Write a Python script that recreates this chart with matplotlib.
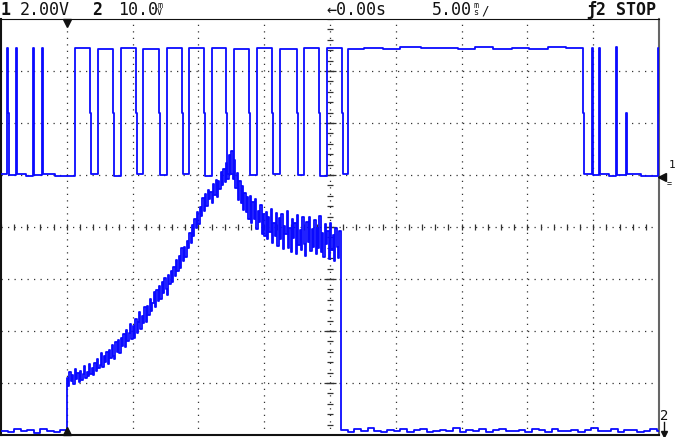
import numpy as np
import matplotlib
matplotlib.use("Agg")
import matplotlib.pyplot as plt

W, H = 675, 437

# channel 1: 2.00 V/div, ground marker one division above centre
# step trace: time (ms) of each change and the level (V) after it
ch1_t = [-5.0, -4.55, -4.49, -4.43, -3.88, -3.82, -3.1, -2.58, -2.52, -2.46, -1.90, -1.84, -0.9,
         0.61, 1.75, 1.87, 2.36, 3.50, 3.62, 4.10, 5.24, 5.36, 5.78, 6.99, 7.11,
         7.60, 8.74, 8.86, 9.27, 10.41, 10.53, 11.02, 12.08, 12.20, 12.69, 13.83, 13.95,
         14.44, 15.58, 15.70, 16.19, 17.48, 17.60, 18.01, 19.15, 19.27, 19.76, 20.90, 21.02,
         21.35, 22.6, 24.0, 25.3, 26.9, 28.2, 29.7, 31.0, 32.4, 33.8, 35.1, 36.6, 37.9,
         39.21, 39.33, 39.89, 39.95, 40.01, 40.43, 40.49, 40.55, 41.2, 41.72, 41.78,
         42.48, 42.54, 43.6, 44.91, 44.97, 45.2]
ch1_v = [0.02, 4.88, 2.4, 0.0, 4.9, 0.03, -0.03, 4.88, 2.4, 0.0, 4.9, 0.02, -0.02,
         4.88, 2.4, 0.02, 4.85, 2.4, -0.02, 4.9, 2.4, 0.03, 4.86, 2.4, 0.0,
         4.9, 2.4, 0.02, 4.87, 2.4, -0.02, 4.9, 2.4, 0.02, 4.86, 2.4, 0.0,
         4.9, 2.4, 0.03, 4.85, 2.4, 0.0, 4.9, 2.4, -0.02, 4.87, 2.4, 0.02,
         4.86, 4.9, 4.84, 4.91, 4.87, 4.9, 4.85, 4.91, 4.86, 4.89, 4.85, 4.91, 4.87,
         2.4, 0.02, 4.9, 2.4, 0.0, 4.9, 2.4, 0.03, -0.03, 4.92, 0.0,
         2.4, 0.02, -0.02, 4.9, 2.4, 2.4]

# channel 2: 10.0 /div, ground at the bottom of the screen
ch2_pre = [0.8, 0.5, 1.1, 0.7, 0.9, 0.4, 1.2, 0.8, 0.6, 1.0]          # from -5 ms, every 0.5 ms
ch2_main = [                                                          # from 0 ms, every 0.1 ms
    10.9, 9.4, 12.1, 10.3, 11.6, 9.8, 12.7, 10.7, 11.9, 10.1,
    12.4, 10.6, 11.8, 13.2, 10.9, 12.1, 11.3, 13.6, 11.7, 12.9,
    11.6, 13.8, 12.4, 14.6, 12.9, 13.4, 15.8, 13.1, 15.2, 14.0,
    15.9, 13.6, 16.4, 14.8, 17.3, 15.1, 14.6, 17.9, 16.0, 18.2,
    15.8, 18.6, 17.1, 19.4, 16.9, 20.2, 18.0, 19.7, 21.4, 18.5,
    20.9, 18.7, 22.3, 19.6, 21.8, 23.6, 20.4, 22.9, 21.5, 24.6,
    21.7, 24.8, 23.0, 26.1, 23.9, 25.4, 27.5, 24.6, 27.9, 25.8,
    28.6, 26.1, 29.4, 27.3, 30.2, 28.0, 26.9, 30.8, 29.1, 31.5,
    29.4, 32.3, 30.6, 33.7, 31.5, 34.4, 32.2, 35.9, 33.4, 36.2,
    34.2, 37.4, 35.9, 38.8, 37.0, 40.3, 38.2, 41.6, 39.9, 42.8,
    40.6, 43.9, 42.2, 45.6, 43.1, 46.4, 44.0, 47.2, 45.3, 46.8,
    44.7, 48.3, 46.2, 49.1, 45.8, 48.9, 47.4, 50.6, 48.1, 51.2,
    48.6, 52.4, 49.3, 53.9, 50.1, 54.6, 49.2, 52.8, 47.5, 50.3,
    45.1, 48.8, 44.6, 47.9, 43.2, 46.6, 42.9, 45.7, 41.6, 46.0,
    40.8, 44.9, 41.5, 45.3, 39.6, 43.0, 40.9, 44.2, 38.7, 42.5,
    38.3, 42.8, 37.6, 41.9, 39.0, 43.4, 36.9, 40.7, 38.2, 42.6,
    36.4, 41.8, 37.7, 42.5, 35.8, 40.2, 38.6, 43.1, 36.0, 39.9,
    35.2, 41.6, 37.9, 40.8, 34.9, 42.3, 36.5, 39.4, 35.6, 41.9,
    36.8, 34.5, 40.9, 37.2, 42.0, 35.3, 39.6, 36.1, 41.4, 34.8,
    39.8, 36.0, 42.2, 35.1, 38.9, 34.3, 40.5, 36.7, 39.2, 33.9,
    40.7, 35.6, 38.4, 33.5, 39.9, 36.2, 34.1, 39.3, 37.6]
ch2_post = [0.9, 0.6, 1.1, 0.7, 1.3, 0.8, 0.5, 1.0, 0.7, 1.2,           # from 20.85 ms, every 0.5 ms
            0.6, 0.9, 1.1, 0.5, 0.8, 1.0, 0.7, 1.3, 0.6, 0.9,
            0.8, 1.1, 0.5, 0.9, 1.2, 0.7, 0.8, 1.0, 0.6, 1.1,
            0.9, 0.5, 1.2, 0.8, 0.7, 1.0, 0.6, 0.9, 1.3, 0.7,
            0.8, 1.1, 0.6, 0.9, 1.0, 0.5, 0.8, 1.2, 0.7]

CH1_VDIV, CH1_GND = 2.0, 1.0
CH2_VDIV, CH2_GND = 10.0, -4.0
BLUE = "#0a0aff"
INK = "#111111"
DOT = "#333333"

fig = plt.figure(figsize=(W / 100, H / 100), dpi=100)
ax = fig.add_axes([1 / W, 2 / H, 658 / W, 416 / H])
ax.set_xlim(-5, 45)
ax.set_ylim(-4, 4)
ax.set_xticks([])
ax.set_yticks([])
for side, lw, col in [("left", 1.5, INK), ("top", 0.8, INK), ("bottom", 1.5, INK), ("right", 1.5, "#666666")]:
    ax.spines[side].set_linewidth(lw)
    ax.spines[side].set_color(col)

# dotted graticule
for t in range(0, 45, 5):
    ax.axvline(t, color=DOT, lw=0.9, ls=(0, (1, 4.2)), zorder=1)
for d in range(-3, 4):
    ax.axhline(d, color=DOT, lw=0.9, ls=(0, (1, 4.2)), zorder=1)
# tick marks on the centre axes
tx = np.arange(-5, 45.01, 1.0)
ax.plot(tx, np.zeros_like(tx), ls="none", marker="|", ms=4, mew=0.9, color=DOT, zorder=1)
ty = np.arange(-4, 4.01, 0.2)
ax.plot(np.full_like(ty, 20.0), ty, ls="none", marker="_", ms=4, mew=0.9, color=DOT, zorder=1)
ty_major = np.arange(-3, 3.01, 1.0)
ax.plot(np.full_like(ty_major, 20.0), ty_major, ls="none", marker="_", ms=8, mew=0.9, color=DOT, zorder=1)

# traces
ax.plot(ch1_t, CH1_GND + np.array(ch1_v) / CH1_VDIV, drawstyle="steps-post", color=BLUE, lw=1.3, zorder=3)

t_pre = -5.0 + 0.5 * np.arange(len(ch2_pre))
t_main = 0.1 * np.arange(len(ch2_main))
t_post = 20.85 + 0.5 * np.arange(len(ch2_post))
t2 = np.concatenate([t_pre, t_main, t_post, [45.2]])
v2 = np.concatenate([ch2_pre, ch2_main, ch2_post, ch2_post[-1:]])
ax.plot(t2, CH2_GND + v2 / CH2_VDIV, drawstyle="steps-post", color=BLUE, lw=1.3, zorder=3)

# trigger / ground markers
ax.plot(0, 3.93, marker="v", ms=6, color=INK, clip_on=False, zorder=4)
ax.plot(0, -3.92, marker="^", ms=6, color=INK, clip_on=False, zorder=4)
ax.plot(45.22, CH1_GND - 0.03, marker="<", ms=6, color=INK, clip_on=False, zorder=4)


def ftext(x, y, s, **kw):
    kw.setdefault("color", INK)
    kw.setdefault("family", "DejaVu Sans Mono")
    fig.text(x / W, 1 - y / H, s, **kw)


# status line
ftext(0, 15, "1", size=12, weight="bold", va="baseline")
ftext(20, 15, "2.00V", size=12, va="baseline")
ftext(92, 15, "2", size=12, weight="bold", va="baseline")
ftext(118, 15, "10.0", size=12, va="baseline")
ftext(157, 9, "m\nV", size=6, va="center", linespacing=0.85)
ftext(326, 15, "\u21900.00s", size=12, va="baseline")
ftext(432, 15, "5.00", size=12, va="baseline")
ftext(473, 9, "m\ns", size=6, va="center", linespacing=0.85)
ftext(481, 15, "/", size=9, va="baseline")
ftext(586, 15, "\u01922", size=12, weight="bold", va="baseline")
ftext(616, 15, "STOP", size=12, weight="bold", va="baseline")

# right-hand channel markers
ftext(669, 168, "1", size=8, va="baseline")
ftext(667, 186, "=", size=6, va="baseline")
ftext(660, 420, "2", size=10, va="baseline")
fig.add_artist(plt.Line2D([664 / W, 664 / W], [1 - 422 / H, 1 - 436 / H], color=INK, lw=1.0))
fig.add_artist(plt.Line2D([664 / W], [1 - 434 / H], marker="v", ms=4, color=INK))

fig.savefig("out.png", dpi=100)
